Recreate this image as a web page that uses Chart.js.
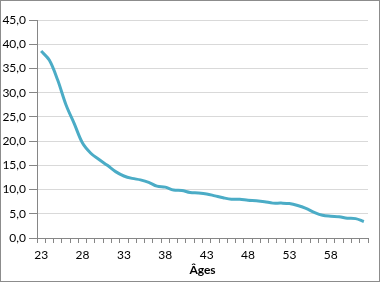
<!DOCTYPE html>
<html>
<head>
<meta charset="utf-8">
<script src="https://cdn.jsdelivr.net/npm/chart.js@4"></script>
<style>
  html, body { margin: 0; padding: 0; background: #fff; }
  #wrap { position: relative; width: 381px; height: 283px; }
  #frame {
    position: absolute; left: 0; top: 0; width: 378px; height: 280px;
    border: 1px solid #8c8c8c; pointer-events: none;
  }
</style>
</head>
<body>
<div id="wrap">
  <canvas id="chart" width="381" height="283"></canvas>
  <div id="frame"></div>
</div>
<script>
// Ages 23 to 62
const ages = [23, 24, 25, 26, 27, 28, 29, 30, 31, 32, 33, 34, 35, 36, 37, 38, 39, 40, 41, 42,
              43, 44, 45, 46, 47, 48, 49, 50, 51, 52, 53, 54, 55, 56, 57, 58, 59, 60, 61, 62];
const values = [38.6, 36.7, 32.6, 27.5, 23.6, 19.6, 17.5, 16.2, 15.0, 13.7,
                12.8, 12.3, 12.0, 11.5, 10.7, 10.5, 9.9, 9.8, 9.4, 9.3,
                9.1, 8.7, 8.3, 8.0, 8.0, 7.8, 7.7, 7.5, 7.2, 7.2,
                7.1, 6.7, 6.1, 5.3, 4.7, 4.5, 4.4, 4.1, 4.0, 3.4];
const yTicks = [0, 5, 10, 15, 20, 25, 30, 35, 40, 45];

const AXIS = '#868686';
const GRID = '#d9d9d9';

Chart.defaults.font.family = 'Lato, "Noto Sans", sans-serif';
Chart.defaults.font.size = 12;
Chart.defaults.color = '#000';

new Chart(document.getElementById('chart').getContext('2d'), {
  type: 'line',
  data: {
    labels: ages.map(String),
    datasets: [{
      data: values,
      borderColor: '#4bacc6',
      borderWidth: 3,
      pointRadius: 0,
      tension: 0.35,
      fill: false
    }]
  },
  options: {
    responsive: false,
    animation: false,
    layout: { padding: { left: 0, right: 13, top: 20, bottom: 0 } },
    plugins: { legend: { display: false }, tooltip: { enabled: false } },
    scales: {
      x: {
        type: 'category',
        offset: true,
        afterFit: (scale) => { scale.height = 45; },
        grid: {
          offset: true,
          drawOnChartArea: false,
          drawTicks: true,
          tickLength: 5,
          tickColor: AXIS
        },
        border: { color: AXIS, width: 1 },
        ticks: {
          autoSkip: false,
          maxRotation: 0,
          padding: 5,
          // keep every tick mark, label only every fifth age
          callback: function (value, index) {
            return index % 5 === 0 ? this.getLabelForValue(value) : '';
          }
        },
        title: {
          display: true,
          text: 'Âges',
          font: { weight: 'bold', size: 12 },
          padding: { top: 0, bottom: 6 }
        }
      },
      y: {
        min: 0,
        max: 45,
        afterFit: (scale) => { scale.width = 37; },
        afterBuildTicks: (scale) => { scale.ticks = yTicks.map(v => ({ value: v })); },
        grid: {
          color: GRID,
          tickColor: AXIS,
          tickLength: 8
        },
        border: { color: AXIS, width: 1 },
        ticks: {
          padding: 3,
          callback: (v) => v.toFixed(1).replace('.', ',')
        }
      }
    }
  }
});
</script>
</body>
</html>
